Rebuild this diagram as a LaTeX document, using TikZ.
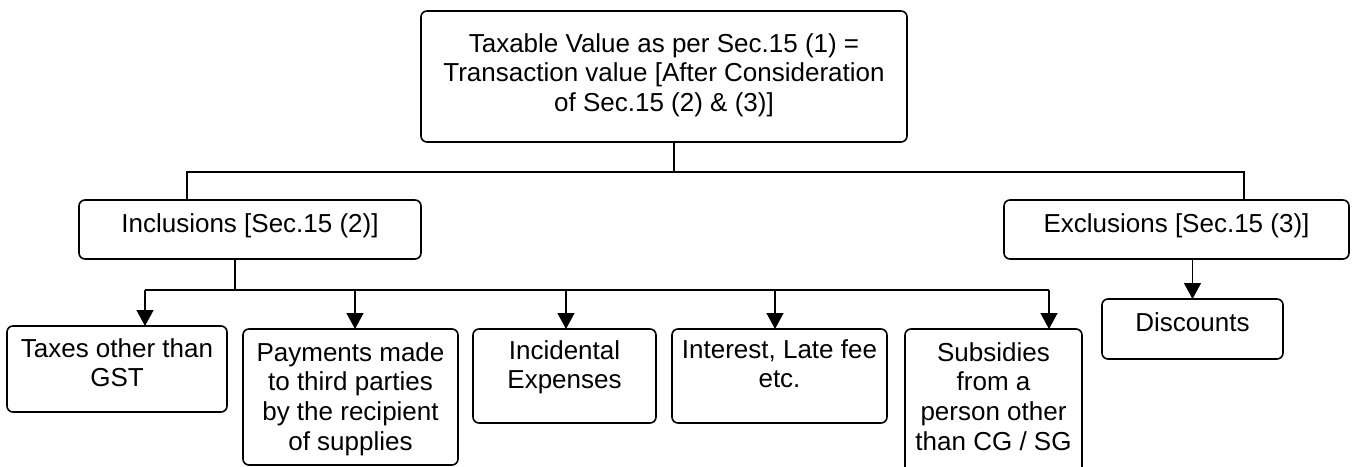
\documentclass[tikz,border=0pt]{standalone}
\usepackage{fontspec}
\setmainfont{Liberation Sans}
\usetikzlibrary{arrows.meta}
\newcommand{\bxt}[4]{\parbox[c][#2pt][t]{#1pt}{\centering\rule{0pt}{#3pt}#4\par}}
\begin{document}
\begin{tikzpicture}[x=1pt,y=-1pt,
  box/.style={draw, line width=1.6pt, rounded corners=6pt, inner sep=0pt, outer sep=0pt,
    font=\fontsize{26pt}{29.7pt}\selectfont},
  conn/.style={line width=1.4pt},
  arr/.style={conn, -{Triangle[length=16pt,width=17pt]}}]
\path[use as bounding box, fill=white] (0,0) rectangle (1355,466);

\node[box] (top) at (664,76.5) {\bxt{486}{131}{41}{Taxable Value as per Sec.15 (1) =\\Transaction value [After Consideration\\of Sec.15 (2) \& (3)]}};
\node[box] (incl) at (250,229.5) {\bxt{342}{59}{32}{Inclusions [Sec.15 (2)]}};
\node[box] (excl) at (1176.5,229.5) {\bxt{345}{59}{32}{Exclusions [Sec.15 (3)]}};
\node[box] (taxes) at (117,369) {\bxt{220}{86}{31}{Taxes other than\\GST}};
\node[box] (pay) at (350.5,397) {\bxt{215}{136}{32}{Payments made\\to third parties\\by the recipient\\of supplies}};
\node[box] (inc) at (564.5,376) {\bxt{183}{94}{30}{Incidental\\Expenses}};
\node[box] (int) at (779.5,376) {\bxt{215}{94}{29}{Interest, Late fee\\etc.}};
\node[box] (sub) at (993.5,405) {\bxt{177}{152}{32}{Subsidies\\from a\\person other\\than CG / SG}};
\node[box] (disc) at (1192.5,329) {\bxt{181}{60}{32}{Discounts}};

\coordinate (ja) at (674,172);
\coordinate (jl) at (187,172);
\coordinate (jr) at (1244,172);
\draw[conn] (top.south -| ja) -- (ja);
\draw[conn] (incl.north -| jl) -- (jl) -- (jr) -- (excl.north -| jr);

\coordinate (kb) at (235,290);
\coordinate (k1) at (145,290);
\coordinate (k2) at (355,290);
\coordinate (k3) at (566,290);
\coordinate (k4) at (775,290);
\coordinate (k5) at (1049,290);
\draw[conn] (incl.south -| kb) -- (kb);
\draw[conn] (k1) -- (k5);
\draw[arr] (k1) -- (taxes.north -| k1);
\draw[arr] (k2) -- (pay.north -| k2);
\draw[arr] (k3) -- (inc.north -| k3);
\draw[arr] (k4) -- (int.north -| k4);
\draw[arr] (k5) -- (sub.north -| k5);
\draw[arr] (excl.south -| disc.north) -- (disc.north);
\end{tikzpicture}
\end{document}
